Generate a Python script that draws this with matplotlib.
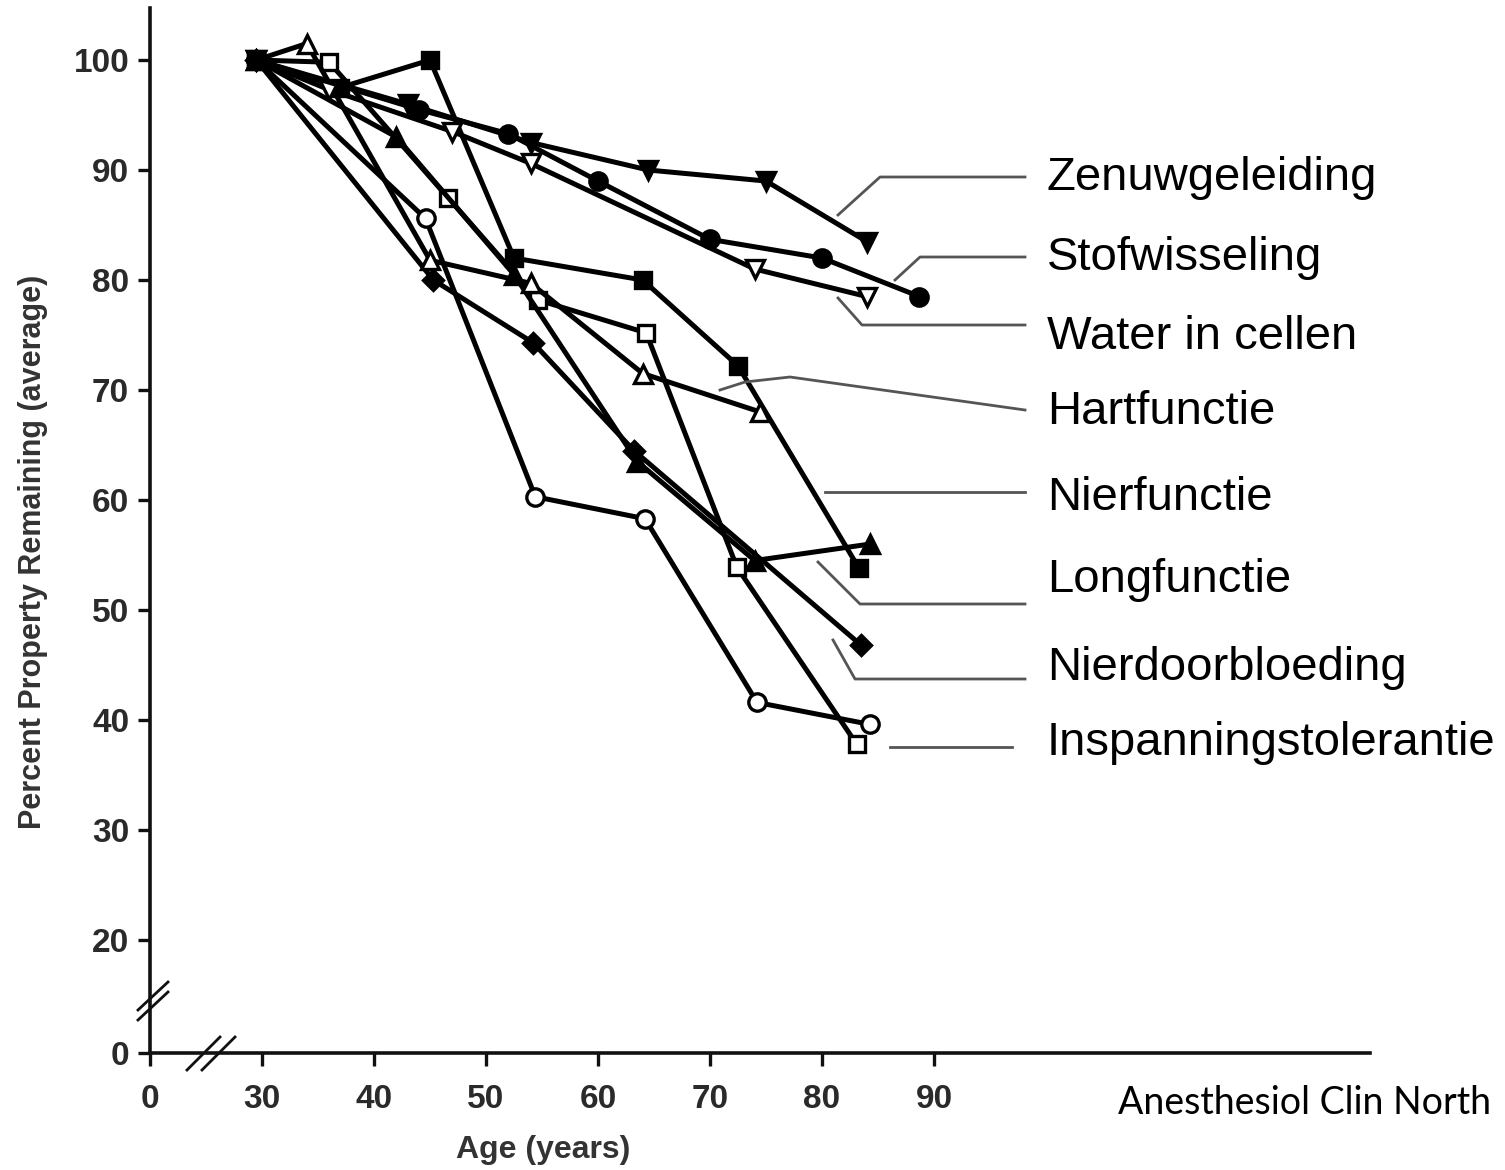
import matplotlib
matplotlib.use("Agg")
import matplotlib.pyplot as plt
from matplotlib.lines import Line2D

# ---------------- data ----------------
zenuw_age = [29.5, 43, 54, 64.5, 75, 84]
zenuw_val = [100, 96, 92.5, 90, 89, 83.5]

stof_age = [29.5, 44, 52, 60, 70, 80, 88.7]
stof_val = [100, 95.5, 93.3, 89, 83.7, 82, 78.5]

water_age = [29.5, 36, 47, 54, 74, 84]
water_val = [100, 97.3, 93.5, 90.6, 81, 78.5]

hart_age = [29.5, 34, 45, 54, 64, 74.5]
hart_val = [100, 101.5, 81.8, 79.7, 71.5, 68]

nier_age = [29.5, 37, 45, 52.5, 64, 72.5, 83.3]
nier_val = [100, 97.5, 100, 82, 80, 72.2, 53.8]

long_age = [29.5, 42, 52.5, 63.5, 74, 84.3]
long_val = [100, 93, 80.5, 63.5, 54.5, 56]

doorb_age = [29.5, 45.3, 54.2, 63.2, 83.5]
doorb_val = [100, 80, 74.3, 64.5, 46.8]

insp_sq_age = [29.5, 36, 46.6, 54.6, 64.3, 72.4, 83.1]
insp_sq_val = [100, 99.8, 87.5, 78.2, 75.2, 53.9, 37.8]

insp_ci_age = [29.5, 44.6, 54.4, 64.2, 74.2, 84.3]
insp_ci_val = [100, 85.6, 60.3, 58.3, 41.6, 39.6]

# broken axes: "0" is drawn at a compressed position
x_zero_pos = 20
y_zero_pos = 9.73
x_ticks = [x_zero_pos, 30, 40, 50, 60, 70, 80, 90]
x_ticklabels = ["0", "30", "40", "50", "60", "70", "80", "90"]
y_ticks = [y_zero_pos, 20, 30, 40, 50, 60, 70, 80, 90, 100]
y_ticklabels = ["0", "20", "30", "40", "50", "60", "70", "80", "90", "100"]

label_texts = ["Zenuwgeleiding", "Stofwisseling", "Water in cellen", "Hartfunctie",
               "Nierfunctie", "Longfunctie", "Nierdoorbloeding", "Inspanningstolerantie"]

# ---------------- figure ----------------
W, H = 1505, 1170
fig = plt.figure(figsize=(W / 100, H / 100), dpi=100)
fig.patch.set_facecolor("white")

ax_left, ax_right, ax_bottom_px, ax_top_px = 150, 1370, 1053, 8
ax = fig.add_axes([ax_left / W, 1 - ax_bottom_px / H,
                   (ax_right - ax_left) / W, (ax_bottom_px - ax_top_px) / H])
ax.set_xlim(x_zero_pos, x_zero_pos + (ax_right - ax_left) / 11.2)
ax.set_ylim(y_zero_pos, y_zero_pos + (ax_bottom_px - ax_top_px) / 11.0)

for s in ["top", "right"]:
    ax.spines[s].set_visible(False)
for s in ["left", "bottom"]:
    ax.spines[s].set_linewidth(2.6)
    ax.spines[s].set_color("#111111")

ax.set_xticks(x_ticks)
ax.set_xticklabels(x_ticklabels)
ax.set_yticks(y_ticks)
ax.set_yticklabels(y_ticklabels)
ax.tick_params(axis="both", direction="out", length=9, width=2.4, colors="#111111",
               labelsize=24)
ax.tick_params(axis="x", pad=13)
ax.tick_params(axis="y", pad=6)
for lab in ax.get_xticklabels() + ax.get_yticklabels():
    lab.set_fontfamily("Liberation Sans")
    lab.set_fontweight("bold")
    lab.set_color("#2a2a2a")

lw = 3.6
ms = 12.5
mew = 2.4


def draw(ages, vals, marker, filled, size=ms):
    ax.plot(ages, vals, color="black", lw=lw, marker=marker, ms=size,
            markerfacecolor="black" if filled else "white",
            markeredgecolor="black", markeredgewidth=mew, zorder=3,
            clip_on=False)


draw(insp_ci_age, insp_ci_val, "o", False)
draw(insp_sq_age, insp_sq_val, "s", False, 11)
draw(doorb_age, doorb_val, "D", True, 10)
draw(long_age, long_val, "^", True)
draw(nier_age, nier_val, "s", True, 11)
draw(hart_age, hart_val, "^", False)
draw(water_age, water_val, "v", False)
draw(stof_age, stof_val, "o", True)
draw(zenuw_age, zenuw_val, "v", True)


# axis break marks (decoration)
def px_to_data(px, py):
    inv = ax.transData.inverted()
    return inv.transform((px, H - py))


fig.canvas.draw()
for dy in (0, 10):
    p1 = px_to_data(138, 1010 + dy)
    p2 = px_to_data(168, 982 + dy)
    ax.plot([p1[0], p2[0]], [p1[1], p2[1]], color="#111111", lw=2.0, clip_on=False, zorder=5)
for dx in (0, 15):
    p1 = px_to_data(187 + dx, 1070)
    p2 = px_to_data(220 + dx, 1037)
    ax.plot([p1[0], p2[0]], [p1[1], p2[1]], color="#111111", lw=2.0, clip_on=False, zorder=5)

# axis labels
fig.text(33 / W, 1 - 552 / H, "Percent Property Remaining (average)", rotation=90,
         ha="center", va="center", fontsize=22, fontweight="bold",
         family="Liberation Sans", color="#333333")
fig.text(543 / W, 1 - 1150 / H, "Age (years)", ha="center", va="center",
         fontsize=23, fontweight="bold", family="Liberation Sans", color="#333333")

# right-hand labels
label_y = [178, 258, 337, 412, 498, 580, 668, 743]
for t, y in zip(label_texts, label_y):
    fig.text(1047 / W, 1 - y / H, t, ha="left", va="center", fontsize=34,
             family="Liberation Sans", color="black")

# leader lines (figure pixel coordinates)
leaders = [
    [(838, 215), (880, 177), (1025, 177)],
    [(895, 280), (920, 257), (1025, 257)],
    [(838, 298), (862, 325), (1025, 325)],
    [(720, 390), (745, 382), (790, 377), (1025, 410)],
    [(825, 492), (1025, 492)],
    [(818, 562), (860, 604), (1025, 604)],
    [(833, 640), (855, 679), (1025, 679)],
    [(890, 747), (1012, 747)],
]
for pts in leaders:
    xs = [p[0] / W for p in pts]
    ys = [1 - p[1] / H for p in pts]
    fig.add_artist(Line2D(xs, ys, transform=fig.transFigure, color="#555555", lw=2.0))

fig.text(1118 / W, 1 - 1103 / H, "Anesthesiol Clin North", ha="left", va="center",
         fontsize=27, family="Lato", color="black")

fig.savefig("out.png", dpi=100, facecolor="white")
